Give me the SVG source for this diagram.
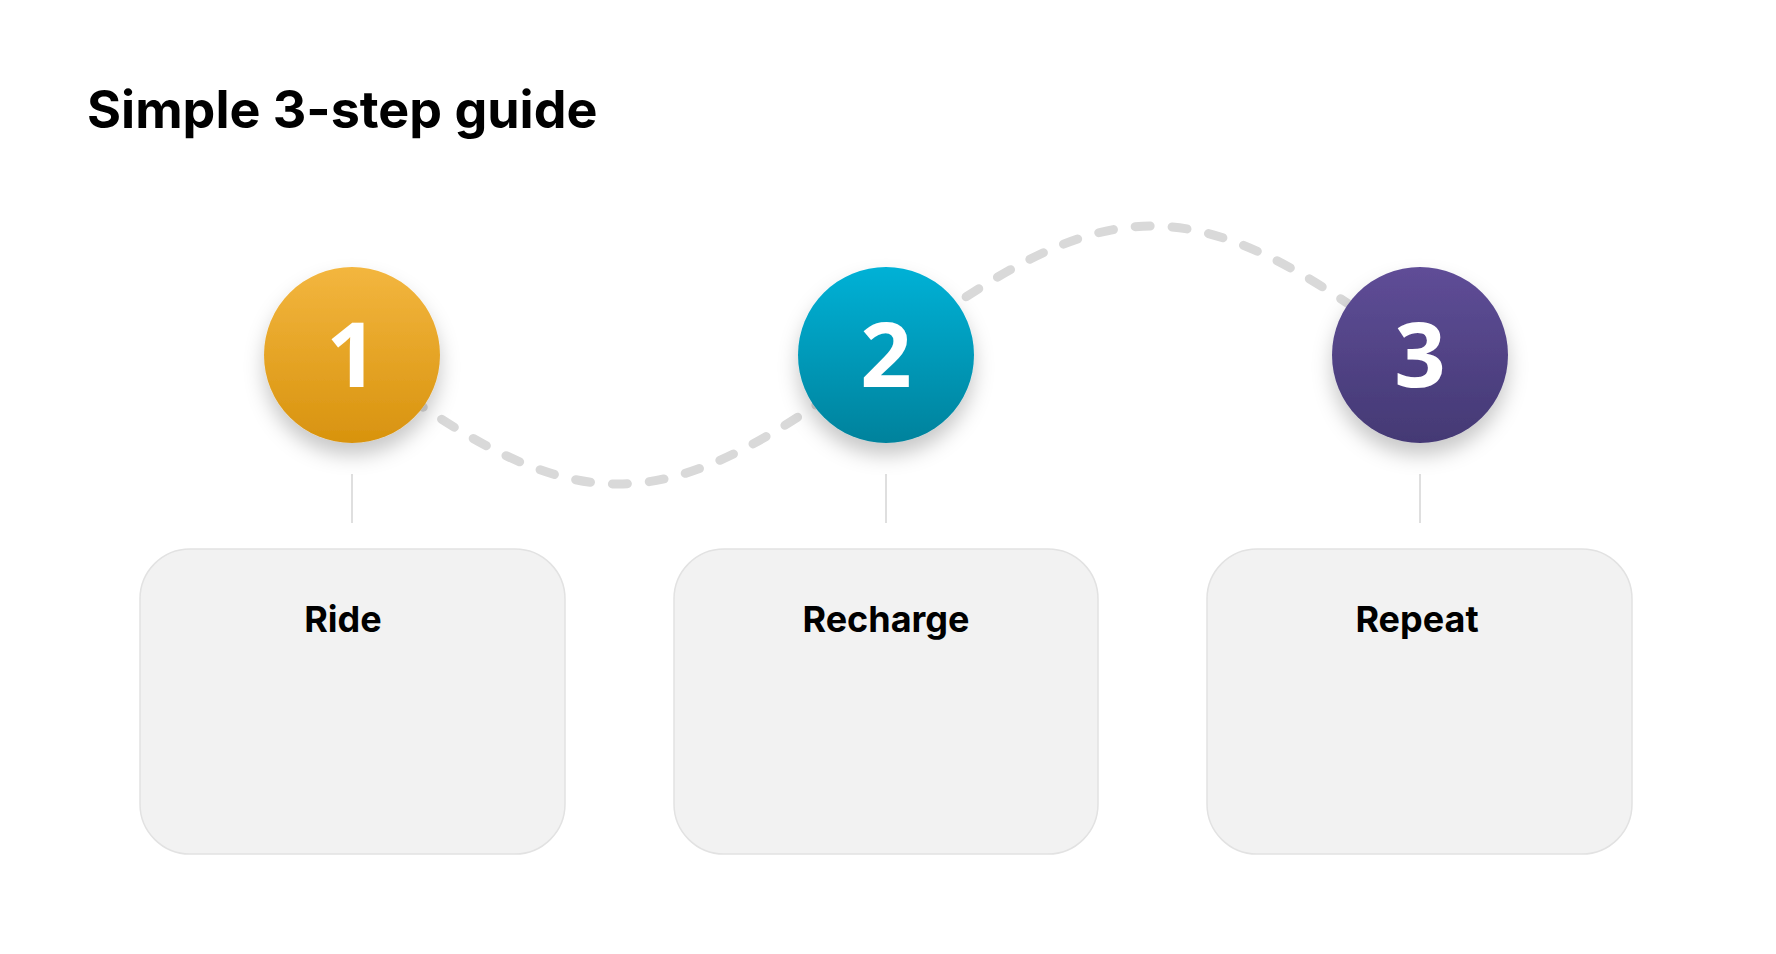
<svg xmlns="http://www.w3.org/2000/svg" width="1776" height="954" viewBox="0 0 1776 954">
<defs>
<style>
.title{font-family:Inter,"Liberation Sans",sans-serif;font-weight:700;font-size:52px;fill:#000}
.num{font-family:"Open Sans","Noto Sans",sans-serif;font-weight:700;font-size:90px;fill:#fff;text-anchor:middle}
.label{font-family:Inter,"Liberation Sans",sans-serif;font-weight:700;font-size:36px;fill:#000;text-anchor:middle}
.box{fill:#f2f2f2;stroke:#e2e2e2;stroke-width:1.5}
.stem{stroke:#d4d4d4;stroke-width:1.5}
.wave{fill:none;stroke:#d9d9d9;stroke-width:9;stroke-linecap:round;stroke-dasharray:15 22}
</style>
<linearGradient id="g1" x1="0" y1="0" x2="0" y2="1"><stop offset="0" stop-color="#F3B63F"/><stop offset="1" stop-color="#D8930E"/></linearGradient>
<linearGradient id="g2" x1="0" y1="0" x2="0" y2="1"><stop offset="0" stop-color="#02B1D6"/><stop offset="1" stop-color="#00829C"/></linearGradient>
<linearGradient id="g3" x1="0" y1="0" x2="0" y2="1"><stop offset="0" stop-color="#5F4D97"/><stop offset="1" stop-color="#443974"/></linearGradient>
<filter id="sh" x="-50%" y="-50%" width="200%" height="200%">
<feDropShadow dx="0" dy="12" stdDeviation="10" flood-color="#000" flood-opacity="0.22"/>
</filter>
</defs>
<rect width="1776" height="954" fill="#fff"/>
<text class="title" x="87" y="128">Simple 3-step guide</text>
<g id="connectors">
<path class="wave" d="M351,355 C577,527 659,527 885,355 C1111,183 1193,183 1419,355"/>
<line class="stem" x1="352" y1="474" x2="352" y2="523"/>
<line class="stem" x1="886" y1="474" x2="886" y2="523"/>
<line class="stem" x1="1420" y1="474" x2="1420" y2="523"/>
</g>
<g id="step1">
<circle cx="352" cy="355" r="88" fill="url(#g1)" filter="url(#sh)"/>
<text class="num" x="352" y="387">1</text>
</g>
<g id="step2">
<circle cx="886" cy="355" r="88" fill="url(#g2)" filter="url(#sh)"/>
<text class="num" x="886" y="387">2</text>
</g>
<g id="step3">
<circle cx="1420" cy="355" r="88" fill="url(#g3)" filter="url(#sh)"/>
<text class="num" x="1420" y="387">3</text>
</g>
<g id="box1">
<rect class="box" x="140" y="549" width="425" height="305" rx="50"/>
<text class="label" x="343" y="632">Ride</text>
</g>
<g id="box2">
<rect class="box" x="674" y="549" width="424" height="305" rx="50"/>
<text class="label" x="886" y="632">Recharge</text>
</g>
<g id="box3">
<rect class="box" x="1207" y="549" width="425" height="305" rx="50"/>
<text class="label" x="1417" y="632">Repeat</text>
</g>
</svg>
